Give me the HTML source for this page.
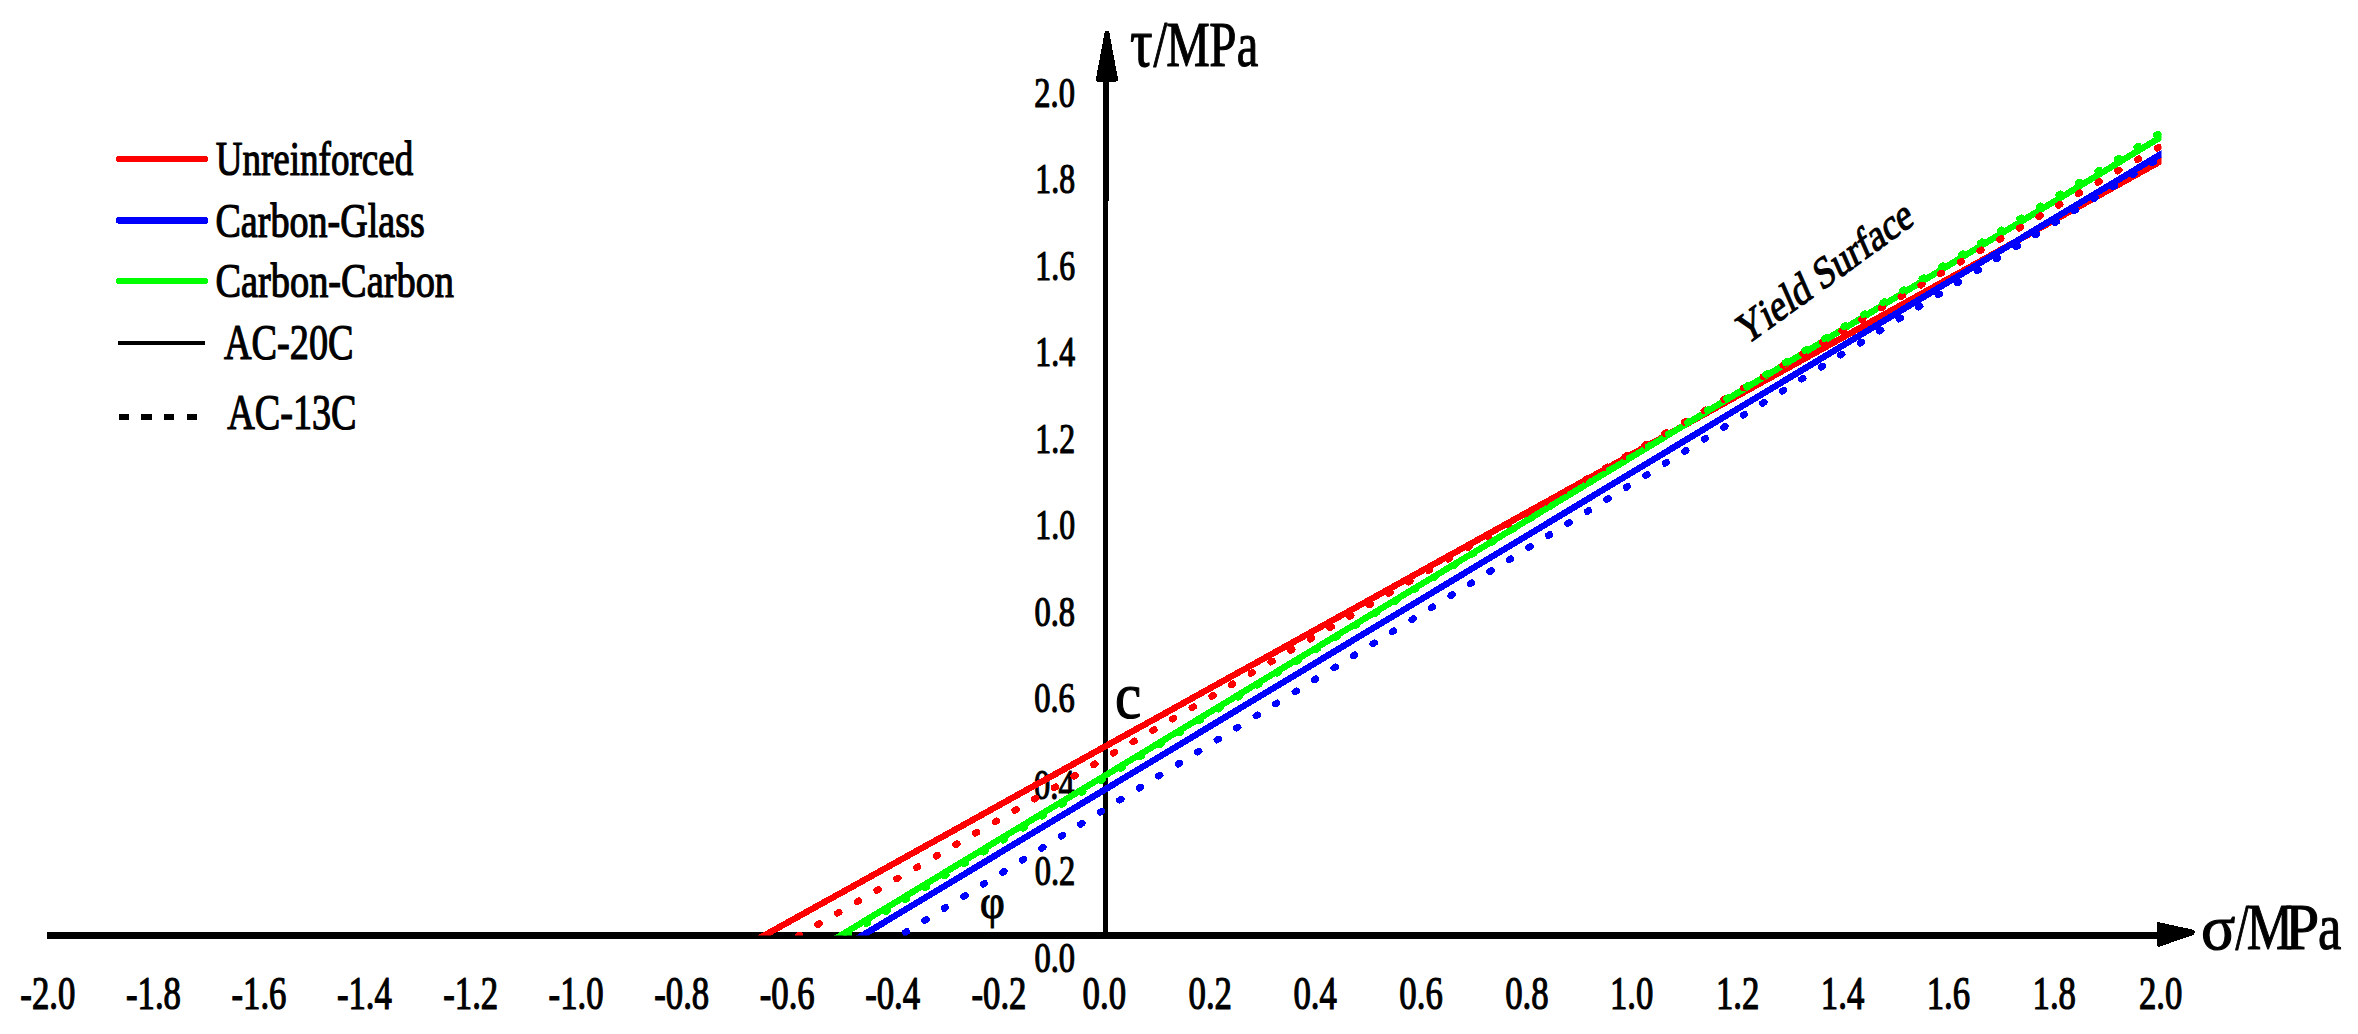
<!DOCTYPE html>
<html lang="en"><head><meta charset="utf-8"><title>Yield surface chart</title>
<style>
html,body{margin:0;padding:0;background:#fff;overflow:hidden;}
svg{display:block;shape-rendering:crispEdges;}
text{font-family:"Liberation Serif", serif;fill:#000;stroke:#000;stroke-width:1.1px;font-kerning:none;font-variant-ligatures:none;vector-effect:non-scaling-stroke;stroke-linejoin:round;}
</style></head><body>
<svg width="2358" height="1034" viewBox="0 0 2358 1034">
<rect width="2358" height="1034" fill="#fff"/>
<rect x="47" y="932.0" width="2113" height="7.0" fill="#000"/>
<rect x="1103.1" y="78" width="4.9" height="857.5" fill="#000"/>
<rect x="1102.9" y="78" width="6.1" height="122.80000000000001" fill="#000"/>
<polygon points="1106.95,33.4 1115.5,79.2 1098.4,79.2" fill="#000" stroke="#000" stroke-width="5" stroke-linejoin="round"/>
<polygon points="2156.85,921.85 2193.8,929.8 2195.05,932.2 2193.8,934.9 2158.3,947 2156.85,945.5" fill="#000"/>
<line x1="119" y1="158.8" x2="205" y2="158.8" stroke="#f00" stroke-width="6.2" stroke-linecap="round"/>
<line x1="119.4" y1="220.4" x2="204.7" y2="220.4" stroke="#00f" stroke-width="7" stroke-linecap="round"/>
<line x1="119" y1="281" x2="205" y2="281" stroke="#0f0" stroke-width="6.2" stroke-linecap="round"/>
<line x1="117.8" y1="342.9" x2="205.2" y2="342.9" stroke="#000" stroke-width="4.6" stroke-linecap="butt"/>
<line x1="118.7" y1="417.4" x2="197.2" y2="417.4" stroke="#000" stroke-width="6" stroke-linecap="butt" stroke-dasharray="10.5 12.1"/>
<text transform="translate(215.77,175.30) scale(0.7482,1)" font-size="49.5">Unreinforced</text>
<text transform="translate(215.49,237.00) scale(0.7691,1)" font-size="49.5">Carbon-Glass</text>
<text transform="translate(215.48,297.00) scale(0.7747,1)" font-size="49.5">Carbon-Carbon</text>
<text transform="translate(223.98,358.70) scale(0.7647,1)" font-size="50">AC-20C</text>
<text transform="translate(227.18,428.70) scale(0.7635,1)" font-size="50">AC-13C</text>
<text transform="translate(1114.90,717.50) scale(0.9108,1)" font-size="65">c</text>
<text transform="translate(980.10,918.00) scale(0.8925,1)" font-size="48">φ</text>
<text y="65.90"><tspan x="1130.11" font-size="69" textLength="22.62" lengthAdjust="spacingAndGlyphs">τ</tspan><tspan x="1153.55" font-size="66" textLength="13.70" lengthAdjust="spacingAndGlyphs">/</tspan><tspan x="1166.14" font-size="64" textLength="43.55" lengthAdjust="spacingAndGlyphs">M</tspan><tspan x="1209.24" font-size="64" textLength="27.16" lengthAdjust="spacingAndGlyphs">P</tspan><tspan x="1236.64" font-size="64" textLength="21.57" lengthAdjust="spacingAndGlyphs">a</tspan></text>
<text y="948.70"><tspan x="2201.12" font-size="63" textLength="34.40" lengthAdjust="spacingAndGlyphs">σ</tspan><tspan x="2235.45" font-size="66" textLength="13.10" lengthAdjust="spacingAndGlyphs">/</tspan><tspan x="2246.76" font-size="65" textLength="46.01" lengthAdjust="spacingAndGlyphs">M</tspan><tspan x="2284.76" font-size="65" textLength="34.47" lengthAdjust="spacingAndGlyphs">P</tspan><tspan x="2317.90" font-size="65" textLength="23.37" lengthAdjust="spacingAndGlyphs">a</tspan></text>
<text transform="translate(1034.30,106.50) scale(0.7680,1)" font-size="42.3">2.0</text>
<text transform="translate(1035.36,193.00) scale(0.7500,1)" font-size="42.3">1.8</text>
<text transform="translate(1035.36,279.50) scale(0.7500,1)" font-size="42.3">1.6</text>
<text transform="translate(1035.36,366.00) scale(0.7500,1)" font-size="42.3">1.4</text>
<text transform="translate(1035.36,452.50) scale(0.7500,1)" font-size="42.3">1.2</text>
<text transform="translate(1035.36,539.00) scale(0.7500,1)" font-size="42.3">1.0</text>
<text transform="translate(1034.40,625.50) scale(0.7680,1)" font-size="42.3">0.8</text>
<text transform="translate(1034.26,712.00) scale(0.7680,1)" font-size="42.3">0.6</text>
<text transform="translate(1034.03,798.50) scale(0.7680,1)" font-size="42.3">0.4</text>
<text transform="translate(1034.67,885.00) scale(0.7680,1)" font-size="42.3">0.2</text>
<text transform="translate(1034.40,971.50) scale(0.7680,1)" font-size="42.3">0.0</text>
<text transform="translate(20.36,1008.80) scale(0.7620,1)" font-size="45.6">-2.0</text>
<text transform="translate(126.01,1008.80) scale(0.7620,1)" font-size="45.6">-1.8</text>
<text transform="translate(231.51,1008.80) scale(0.7620,1)" font-size="45.6">-1.6</text>
<text transform="translate(336.91,1008.80) scale(0.7620,1)" font-size="45.6">-1.4</text>
<text transform="translate(443.24,1008.80) scale(0.7620,1)" font-size="45.6">-1.2</text>
<text transform="translate(548.59,1008.80) scale(0.7620,1)" font-size="45.6">-1.0</text>
<text transform="translate(654.23,1008.80) scale(0.7620,1)" font-size="45.6">-0.8</text>
<text transform="translate(759.74,1008.80) scale(0.7620,1)" font-size="45.6">-0.6</text>
<text transform="translate(865.13,1008.80) scale(0.7620,1)" font-size="45.6">-0.4</text>
<text transform="translate(971.47,1008.80) scale(0.7620,1)" font-size="45.6">-0.2</text>
<text transform="translate(1082.58,1008.80) scale(0.7620,1)" font-size="45.6">0.0</text>
<text transform="translate(1188.52,1008.80) scale(0.7620,1)" font-size="45.6">0.2</text>
<text transform="translate(1293.48,1008.80) scale(0.7620,1)" font-size="45.6">0.4</text>
<text transform="translate(1399.37,1008.80) scale(0.7620,1)" font-size="45.6">0.6</text>
<text transform="translate(1505.16,1008.80) scale(0.7620,1)" font-size="45.6">0.8</text>
<text transform="translate(1609.94,1008.80) scale(0.7620,1)" font-size="45.6">1.0</text>
<text transform="translate(1715.88,1008.80) scale(0.7620,1)" font-size="45.6">1.2</text>
<text transform="translate(1820.84,1008.80) scale(0.7620,1)" font-size="45.6">1.4</text>
<text transform="translate(1926.73,1008.80) scale(0.7620,1)" font-size="45.6">1.6</text>
<text transform="translate(2032.52,1008.80) scale(0.7620,1)" font-size="45.6">1.8</text>
<text transform="translate(2138.93,1008.80) scale(0.7620,1)" font-size="45.6">2.0</text>
<text transform="translate(1745.5,346.2) scale(0.78,1) rotate(-29.4)" font-size="45.3">Yield Surface</text>
<clipPath id="cp"><rect x="0" y="0" width="2161.5" height="935.6"/></clipPath>
<g clip-path="url(#cp)" fill="none">
<polyline points="737.76,950.15 2187.24,146.45" stroke="#f00" stroke-width="6.4" stroke-linecap="butt"/>
<polyline points="814.73,951.13 2186.67,121.37" stroke="#0f0" stroke-width="6.4" stroke-linecap="butt"/>
<polyline points="758.73,958.89 2197.19,124.86" stroke="#f00" stroke-width="6.8" stroke-linecap="round" stroke-dasharray="1.8 20.965" stroke-dashoffset="0"/>
<polyline points="827.14,947.36 1420,586.3 2196.3,110.71" stroke="#0f0" stroke-width="6.8" stroke-linecap="round" stroke-dasharray="1.8 21.109" stroke-dashoffset="0"/>
<polyline points="836.49,951.07 2186.71,138.63" stroke="#00f" stroke-width="6.4" stroke-linecap="butt"/>
<polyline points="866.26,956.53 2192.07,138.14" stroke="#00f" stroke-width="6.8" stroke-linecap="round" stroke-dasharray="1.8 21.099" stroke-dashoffset="0"/>
</g>
</svg>
</body></html>
